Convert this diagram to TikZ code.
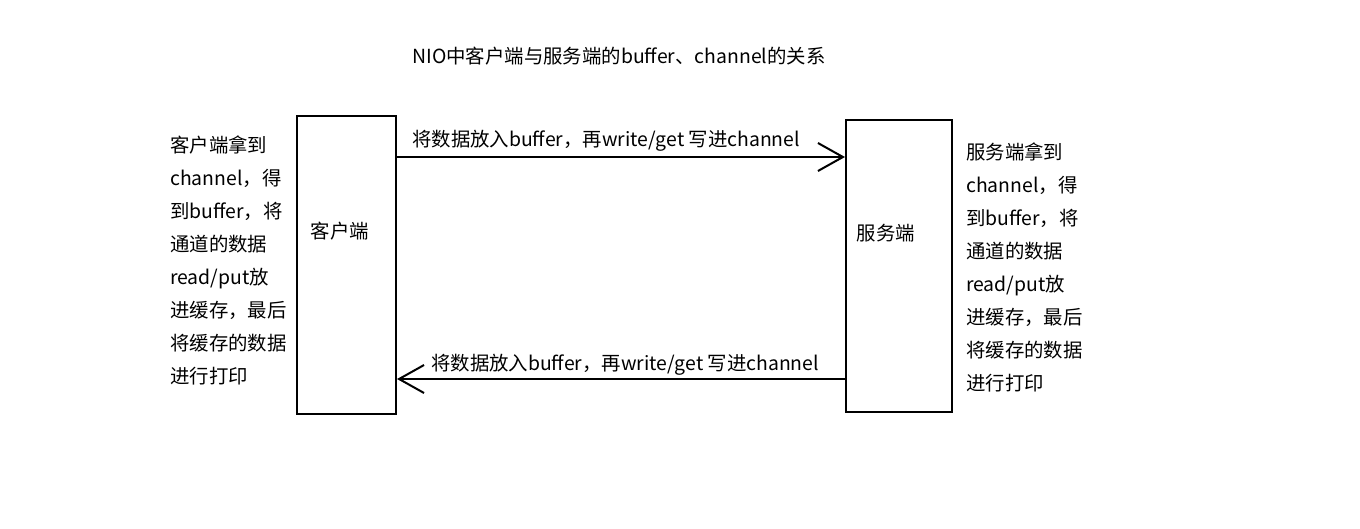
\documentclass[tikz,border=0pt]{standalone}
\usepackage{fontspec}
\setmainfont{Noto Sans CJK SC}
\usetikzlibrary{arrows.meta}
\tikzset{
  box/.style={draw, line width=2pt, inner sep=0pt},
  conn/.style={line width=2pt, -{Straight Barb[length=25pt,width=28pt,line width=2pt]}},
  txt/.style={inner sep=0pt, font=\fontsize{19.4}{33}\selectfont},
  side/.style={txt, align=left, anchor=north west}
}
\begin{document}
\begin{tikzpicture}[x=1pt,y=-1pt]
\useasboundingbox (0,0) rectangle (1360,528);
\node[box, minimum width=99pt, minimum height=298pt, anchor=north west] (client) at (296,115) {};
\node[box, minimum width=106pt, minimum height=292pt, anchor=north west] (server) at (845,119) {};
\node[txt] (clientlabel) at (340,231) {客户端};
\node[txt] (serverlabel) at (886,233) {服务端};
\node[txt] (title) at (619,56) {NIO中客户端与服务端的buffer、channel的关系};
\coordinate (a1s) at (client.east |- 0,157);
\coordinate (a1e) at (server.west |- 0,157);
\draw[conn] (a1s) -- (a1e);
\coordinate (a2s) at (server.west |- 0,379);
\coordinate (a2e) at (client.east |- 0,379);
\draw[conn] (a2s) -- (a2e);
\node[txt, anchor=west] (l1) at (412,141) {将数据放入buffer，再write/get 写进channel};
\node[txt, anchor=west] (l2) at (431,365) {将数据放入buffer，再write/get 写进channel};
\node[side] (lt) at (170,136) {客户端拿到\\channel，得\\到buffer，将\\通道的数据\\read/put放\\进缓存，最后\\将缓存的数据\\进行打印};
\node[side] (rt) at (966,143) {服务端拿到\\channel，得\\到buffer，将\\通道的数据\\read/put放\\进缓存，最后\\将缓存的数据\\进行打印};
\end{tikzpicture}
\end{document}
